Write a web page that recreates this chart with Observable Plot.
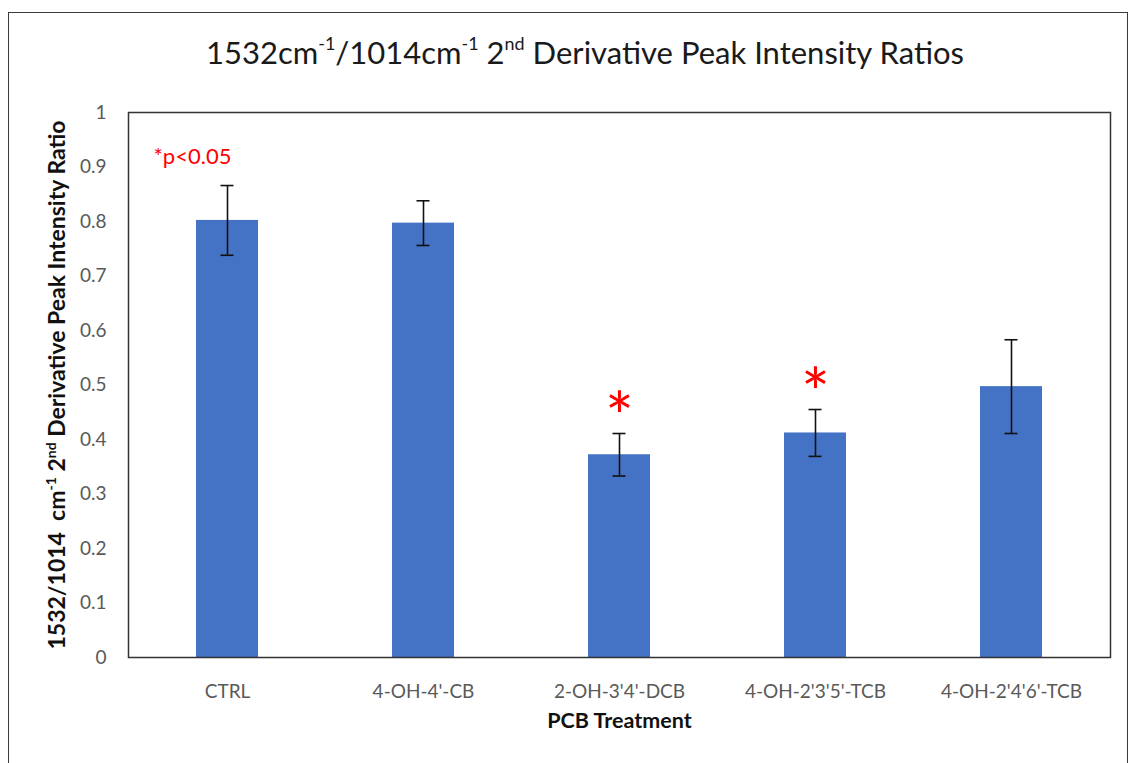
<!DOCTYPE html>
<html>
<head>
<meta charset="utf-8">
<script src="https://cdn.jsdelivr.net/npm/d3@7"></script>
<script src="https://cdn.jsdelivr.net/npm/@observablehq/plot@0.6"></script>
<style>
  html, body { margin: 0; padding: 0; background: #fff; }
  #wrap { position: relative; width: 1135px; height: 763px; overflow: hidden; font-family: Lato, "Open Sans", sans-serif; }
  #border { position: absolute; left: 8px; top: 12px; width: 1120px; height: 800px; border: 1.5px solid #3a3a3a; box-sizing: border-box; }
  #title { position: absolute; left: 0; top: 33px; width: 1170px; text-align: center; font-size: 31px; color: #1a1a1a; white-space: nowrap; }
  #title sup { font-size: 58%; vertical-align: 0; position: relative; top: -0.8em; }
  #chart { position: absolute; left: 0; top: 0; }
</style>
</head>
<body>
<div id="wrap">
  <div id="border"></div>
  <div id="chart"></div>
  <div id="title">1532cm<sup>-1</sup>/1014cm<sup>-1</sup> 2<sup>nd</sup> Derivative Peak Intensity Ratios</div>
</div>
<script>
// Treatments and their mean 1532/1014 ratios with error (± half-range)
const treatments = ["CTRL", "4-OH-4'-CB", "2-OH-3'4'-DCB", "4-OH-2'3'5'-TCB", "4-OH-2'4'6'-TCB"];
const meanRatio = [0.802, 0.797, 0.372, 0.412, 0.497];
const errRatio = [0.064, 0.041, 0.039, 0.043, 0.086];
const significant = [false, false, true, true, false];
const yTicks = [0, 0.1, 0.2, 0.3, 0.4, 0.5, 0.6, 0.7, 0.8, 0.9, 1];
const noteText = "*p<0.05";

const rows = treatments.map((t, i) => ({
  treatment: t,
  mean: meanRatio[i],
  lo: meanRatio[i] - errRatio[i],
  hi: meanRatio[i] + errRatio[i],
  sig: significant[i]
}));

const capInset = 24.5;

const chart = Plot.plot({
  width: 1135,
  height: 763,
  marginLeft: 128,
  marginRight: 25,
  marginTop: 112,
  marginBottom: 106,
  style: { fontFamily: "Lato, 'Open Sans', sans-serif", background: "transparent" },
  x: { domain: treatments, paddingInner: 0.684, paddingOuter: 0.342 },
  y: { domain: [0, 1] },
  marks: [
    Plot.barY(rows, { x: "treatment", y: "mean", fill: "#4472C4" }),
    Plot.ruleX(rows, { x: "treatment", y1: "lo", y2: "hi", stroke: "#111", strokeWidth: 1.6 }),
    Plot.tickY(rows, { x: "treatment", y: "hi", stroke: "#111", strokeWidth: 1.6, insetLeft: capInset, insetRight: capInset }),
    Plot.tickY(rows, { x: "treatment", y: "lo", stroke: "#111", strokeWidth: 1.6, insetLeft: capInset, insetRight: capInset }),
    Plot.text(rows.filter(d => d.sig), { x: "treatment", y: "hi", text: () => "*", fill: "#ff0000", fontSize: 68, dy: -14 }),
    Plot.text([noteText], { frameAnchor: "top-left", text: d => d, dx: 25, dy: 36, fill: "#ff0000", fontSize: 22 }),
    Plot.frame({ stroke: "#333", strokeWidth: 1.5 }),
    Plot.axisY({
      ticks: yTicks, tickFormat: d => String(d), tickSize: 0, tickPadding: 22, fontSize: 19, color: "#595959",
      label: "1532/1014  cm-1 2nd Derivative Peak Intensity Ratio",
      labelAnchor: "center", labelArrow: "none", labelOffset: 80
    }),
    Plot.axisX({
      tickSize: 0, tickPadding: 27, fontSize: 19, color: "#595959",
      label: "PCB Treatment", labelAnchor: "center", labelArrow: "none", labelOffset: 70
    })
  ]
});

document.getElementById("chart").appendChild(chart);

// Axis titles: dark bold text, with superscripts on the y title
const svg = d3.select(chart);
svg.select('g[aria-label="x-axis label"] text')
  .attr("fill", "#111").attr("font-weight", "bold").attr("font-size", 21.5);
const yl = svg.select('g[aria-label="y-axis label"] text')
  .attr("fill", "#111").attr("font-weight", "bold").attr("font-size", 23)
  .attr("xml:space", "preserve").style("white-space", "pre");
yl.text(null);
const parts = [
  ["1532/1014  cm", false], ["-1", true], [" 2", false], ["nd", true], [" Derivative Peak Intensity Ratio", false]
];
parts.forEach(([s, sup], i) => {
  const ts = yl.append("tspan").text(s);
  if (sup) ts.attr("font-size", 14).attr("dy", -9);
  else if (i > 0) ts.attr("dy", 9);
});
</script>
</body>
</html>
